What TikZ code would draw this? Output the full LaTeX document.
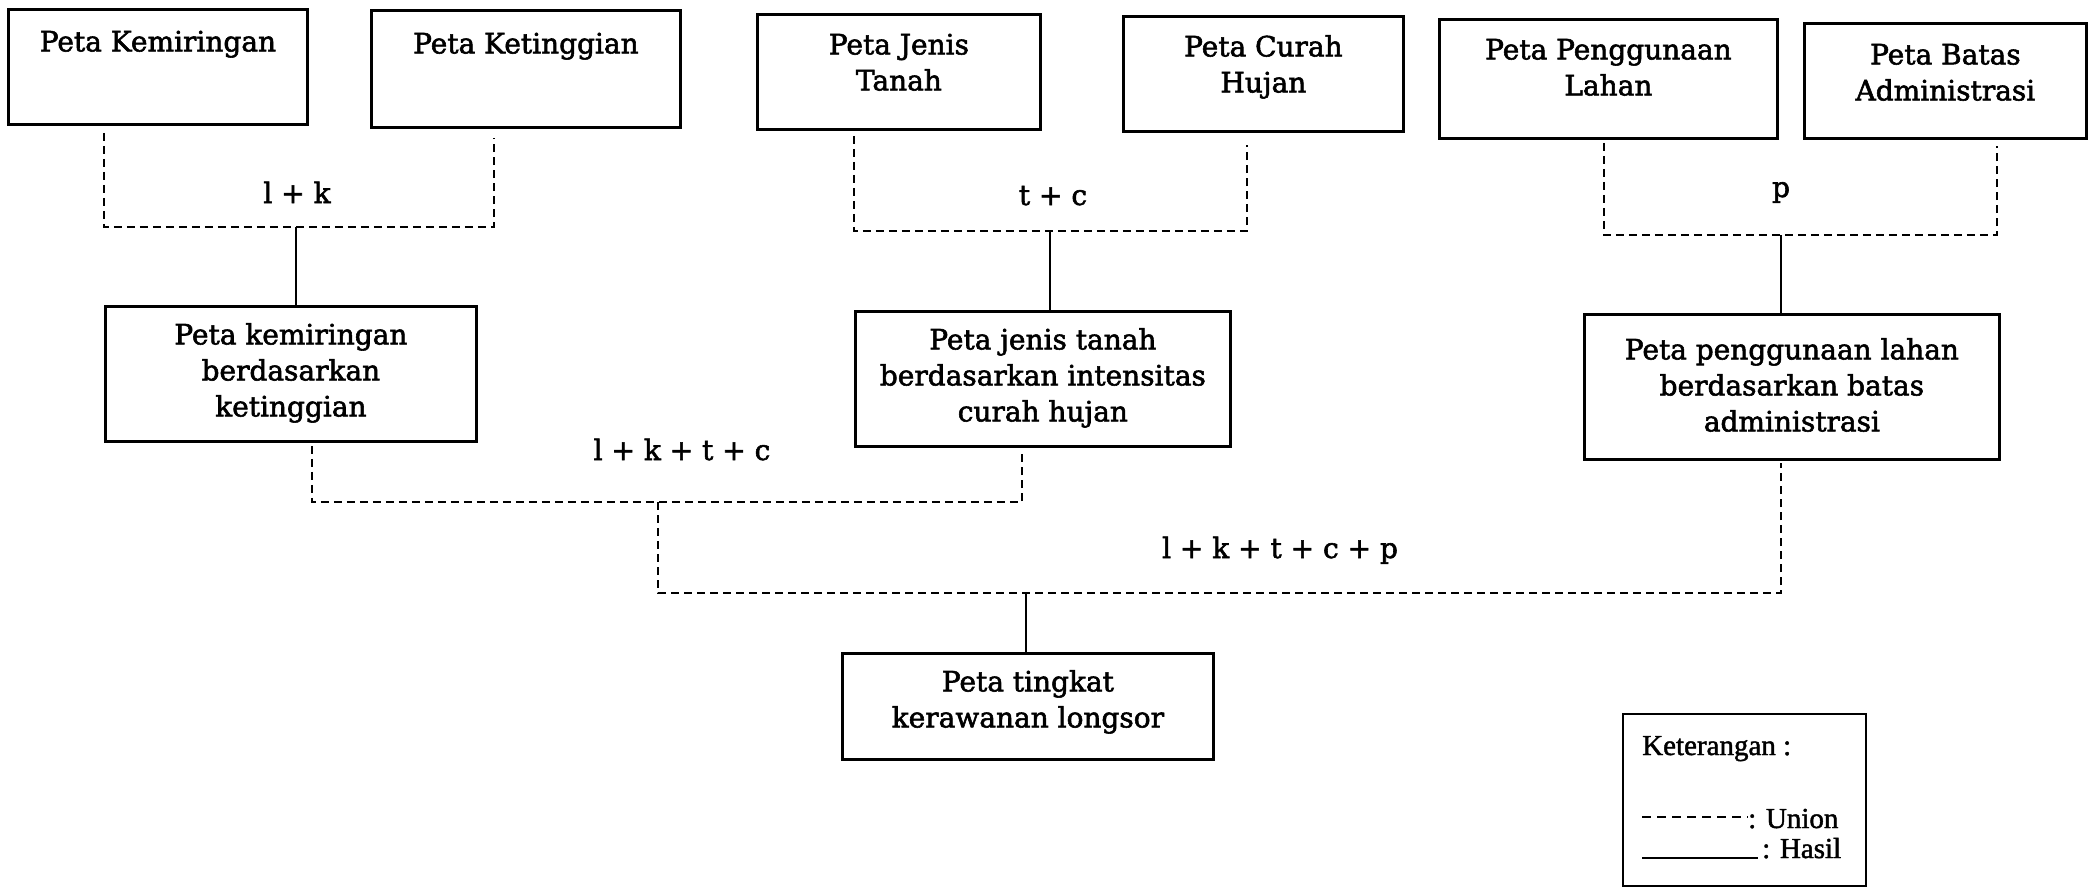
\documentclass[tikz,border=0pt]{standalone}
\usepackage{fontspec}
\setmainfont[FakeBold=2]{DejaVu Serif}
\newfontfamily\legendfont[FakeBold=1.5]{Liberation Serif}
\newcommand{\boxtxt}[4]{\parbox[c][#2][t]{#1}{\centering\rule{0pt}{#3}#4}}
\begin{document}
\begin{tikzpicture}[x=1pt,y=-1pt,
  box/.style={draw, line width=2.8pt, inner sep=0pt, anchor=north west, font=\fontsize{28}{36}\selectfont},
  union/.style={line width=2.4pt, dash pattern=on 8pt off 5pt},
  result/.style={line width=2.6pt},
  lbl/.style={anchor=base, inner sep=0pt, font=\fontsize{28}{36}\selectfont},
  legtext/.style={anchor=base west, inner sep=0pt, font=\legendfont\fontsize{29}{34}\selectfont}]
\useasboundingbox (0,0) rectangle (2099,887);

% top row
\node[box] (b1) at (7,8)     {\boxtxt{299pt}{115pt}{42pt}{Peta Kemiringan}};
\node[box] (b2) at (370,9)   {\boxtxt{309pt}{117pt}{43pt}{Peta Ketinggian}};
\node[box] (b4) at (756,13)  {\boxtxt{283pt}{115pt}{40pt}{Peta Jenis\\Tanah}};
\node[box] (b5) at (1122,15) {\boxtxt{280pt}{115pt}{40pt}{Peta Curah\\Hujan}};
\node[box] (b7) at (1438,18) {\boxtxt{338pt}{119pt}{40pt}{Peta Penggunaan\\Lahan}};
\node[box] (b8) at (1803,22) {\boxtxt{282pt}{115pt}{41pt}{Peta Batas\\Administrasi}};

% middle row
\node[box] (b3) at (104,305)  {\boxtxt{371pt}{135pt}{38pt}{Peta kemiringan\\berdasarkan\\ketinggian}};
\node[box] (b6) at (854,310)  {\boxtxt{375pt}{135pt}{38pt}{Peta jenis tanah\\berdasarkan intensitas\\curah hujan}};
\node[box] (b9) at (1583,313) {\boxtxt{415pt}{145pt}{45pt}{Peta penggunaan lahan\\berdasarkan batas\\administrasi}};

% bottom
\node[box] (b10) at (841,652) {\boxtxt{371pt}{106pt}{38pt}{Peta tingkat\\kerawanan longsor}};

% junctions
\coordinate (j1) at (296,227);
\coordinate (j2) at (1050,231);
\coordinate (j3) at (1781,235);
\coordinate (j4) at (658,502);
\coordinate (j5) at (1026,593);

% unions level 1
\draw[union] ([shift={(97pt,-7pt)}]b1.south west) |- (j1) -| ([shift={(124pt,-9pt)}]b2.south west);
\draw[union] ([shift={(98pt,-5pt)}]b4.south west) |- (j2) -| ([shift={(125pt,-12pt)}]b5.south west);
\draw[union] ([shift={(166pt,-3pt)}]b7.south west) |- (j3) -| ([shift={(194pt,-6pt)}]b8.south west);
\draw[result] (j1) -- (j1 |- b3.north);
\draw[result] (j2) -- (j2 |- b6.north);
\draw[result] (j3) -- (j3 |- b9.north);

% unions level 2 and 3
\draw[union] ([shift={(208pt,-3pt)}]b3.south west) |- (j4) -| ([shift={(168pt,-2pt)}]b6.south west);
\draw[union] (j4) |- (j5) -| ([shift={(198pt,-2pt)}]b9.south west);
\draw[result] (j5) -- (j5 |- b10.north);

% labels
\node[lbl] (lk)    at (297,203)  {l + k};
\node[lbl] (tc)    at (1053,205) {t + c};
\node[lbl] (lp)    at (1781,197) {p};
\node[lbl] (lktc)  at (682,460)  {l + k + t + c};
\node[lbl] (lktcp) at (1280,558) {l + k + t + c + p};

% legend
\node[draw, line width=1.8pt, anchor=north west, minimum width=243pt, minimum height=172pt, inner sep=0pt] (leg) at (1622,713) {};
\node[legtext] (legt) at (1642,755) {Keterangan :};
\draw[line width=1.8pt, dash pattern=on 9pt off 6pt] (1642,817) -- (1748,817);
\node[legtext] (legu) at (1748,828) {: Union};
\draw[line width=1.8pt] (1642,858) -- (1758,858);
\node[legtext] (legh) at (1762,858) {: Hasil};
\end{tikzpicture}
\end{document}
